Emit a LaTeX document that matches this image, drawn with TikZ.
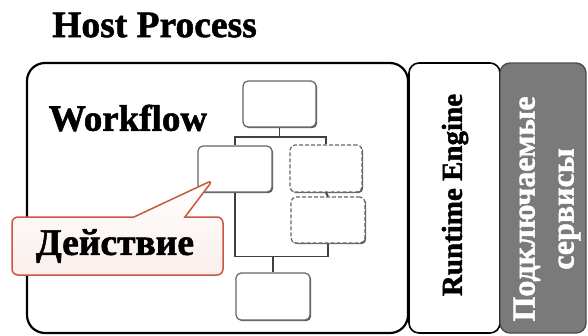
\documentclass[tikz,border=0pt]{standalone}
\usepackage{fontspec}
\setmainfont{Liberation Serif}[BoldFeatures={FakeBold=1.5}]
\usetikzlibrary{shadows,shapes.callouts,calc}
\definecolor{callred}{RGB}{200,88,62}
\definecolor{svcgray}{RGB}{122,122,122}
\begin{document}
\begin{tikzpicture}[x=1pt,y=-1pt,
  fbox/.style={draw=black!60, line width=1.2pt, rounded corners=5pt, fill=white,
    inner sep=0pt, drop shadow={shadow xshift=1.2pt, shadow yshift=-1.2pt, fill=black!65, opacity=1}},
  dbox/.style={fbox, dashed, dash pattern=on 4pt off 2pt},
  conn/.style={draw=black!75, line width=1.8pt},
  panel/.style={draw=black, line width=2.2pt, inner sep=0pt}]
\useasboundingbox (0,0) rectangle (588,335);
% panels
\node[panel, rounded corners=18pt, minimum width=381pt, minimum height=270pt] (host) at (217.5,198) {};
\node[panel, line width=1.6pt, rounded corners=10pt, minimum width=91pt, minimum height=270pt] (rt) at (454.5,198) {};
\node[draw=black!70, line width=1.4pt, fill=svcgray, rounded corners=10pt, minimum width=86pt, minimum height=270pt, inner sep=0pt] (svc) at (543,198) {};
% titles
\node[font=\fontsize{37.5}{37.5}\selectfont\bfseries] (title) at (154.5,25) {Host Process};
\node[font=\fontsize{37}{37}\selectfont\bfseries] (wf) at (128,118) {Workflow};
\node[rotate=90, font=\fontsize{29}{29}\selectfont\bfseries] (rtt) at (455,195) {Runtime Engine};
\node[rotate=90, text=white, align=center, font=\fontsize{32}{39}\selectfont\bfseries] (svct) at (547,209) {Подключаемые\\сервисы};
% flow boxes
\node[fbox, minimum width=73pt, minimum height=46pt] (top) at (279.5,104) {};
\node[fbox, minimum width=74pt, minimum height=46pt] (act) at (235,169) {};
\node[dbox, minimum width=72pt, minimum height=47pt] (d1) at (326,168.5) {};
\node[dbox, minimum width=74pt, minimum height=46pt] (d2) at (328,220) {};
\node[fbox, minimum width=74pt, minimum height=47pt] (bot) at (273,296.5) {};
% connectors
\path (top.south) ++(0,9) coordinate (jt);
\path (bot.north) ++(0,-16) coordinate (jb);
\draw[conn] (top.south) -- (jt);
\draw[conn] (act.north) |- (jt) -| (d1.north);
\draw[conn] (d1.south) -- (d2.north);
\draw[conn] (act.south) |- (jb) -| (d2.south);
\draw[conn] (jb) -- (bot.north);
% callout
\coordinate (tip) at (213,180);
\node[rectangle callout, callout absolute pointer={(tip)}, callout pointer width=51pt,
  draw=callred, line width=1.5pt, rounded corners=6pt,
  top color=white, bottom color=callred!10,
  minimum width=211pt, minimum height=58pt, inner sep=0pt,
  font=\fontsize{37.5}{37.5}\selectfont\bfseries] (callout) at (117.5,246) {\hspace*{-5pt}Действие};
\end{tikzpicture}
\end{document}
